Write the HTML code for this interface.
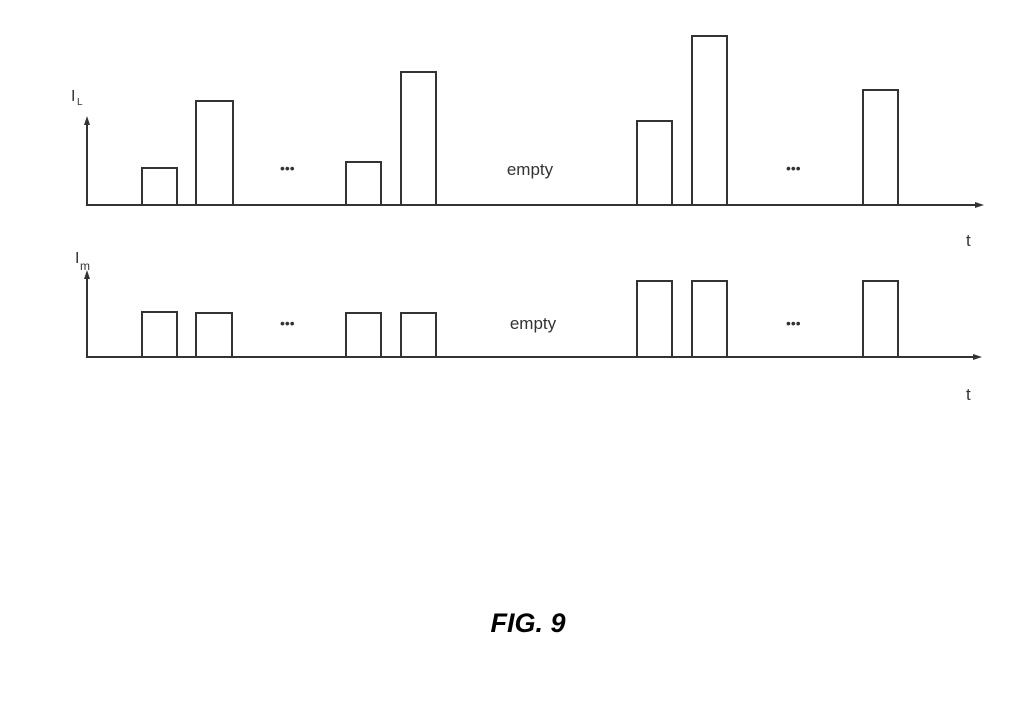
<!DOCTYPE html>
<html><head><style>body{margin:0;background:#fff}</style></head><body>
<svg width="1032" height="712" xmlns="http://www.w3.org/2000/svg" style="display:block">
<g fill="none" stroke="#333" stroke-width="2">
<polyline points="87,120 87,205 978,205"/>
<rect x="142" y="168" width="35" height="37"/>
<rect x="196" y="101" width="37" height="104"/>
<rect x="346" y="162" width="35" height="43"/>
<rect x="401" y="72" width="35" height="133"/>
<rect x="637" y="121" width="35" height="84"/>
<rect x="692" y="36" width="35" height="169"/>
<rect x="863" y="90" width="35" height="115"/>
<polyline points="87,274 87,357 976,357"/>
<rect x="142" y="312" width="35" height="45"/>
<rect x="196" y="313" width="36" height="44"/>
<rect x="346" y="313" width="35" height="44"/>
<rect x="401" y="313" width="35" height="44"/>
<rect x="637" y="281" width="35" height="76"/>
<rect x="692" y="281" width="35" height="76"/>
<rect x="863" y="281" width="35" height="76"/>
</g>
<g fill="#333">
<polygon points="87,116 84,125 90,125"/>
<polygon points="87,270 84,279 90,279"/>
<polygon points="984,205 975,202 975,208"/>
<polygon points="982,357 973,354 973,360"/>
</g>
<g font-family="Liberation Sans, sans-serif" fill="#333">
<text x="71" y="101" font-size="16">I</text><text x="77" y="105" font-size="10">L</text>
<text x="75" y="263" font-size="16">I</text><text x="80" y="270" font-size="12">m</text>
<text x="280" y="173" font-size="14">•••</text>
<text x="280" y="328" font-size="14">•••</text>
<text x="786" y="173" font-size="14">•••</text>
<text x="786" y="328" font-size="14">•••</text>
<text x="530" y="175" font-size="17" text-anchor="middle">empty</text>
<text x="533" y="329" font-size="17" text-anchor="middle">empty</text>
<text x="966" y="246" font-size="17">t</text>
<text x="966" y="400" font-size="17">t</text>
<text x="528" y="632" font-size="27" font-weight="bold" font-style="italic" text-anchor="middle" fill="#000">FIG. 9</text>
</g>
</svg>
</body></html>
